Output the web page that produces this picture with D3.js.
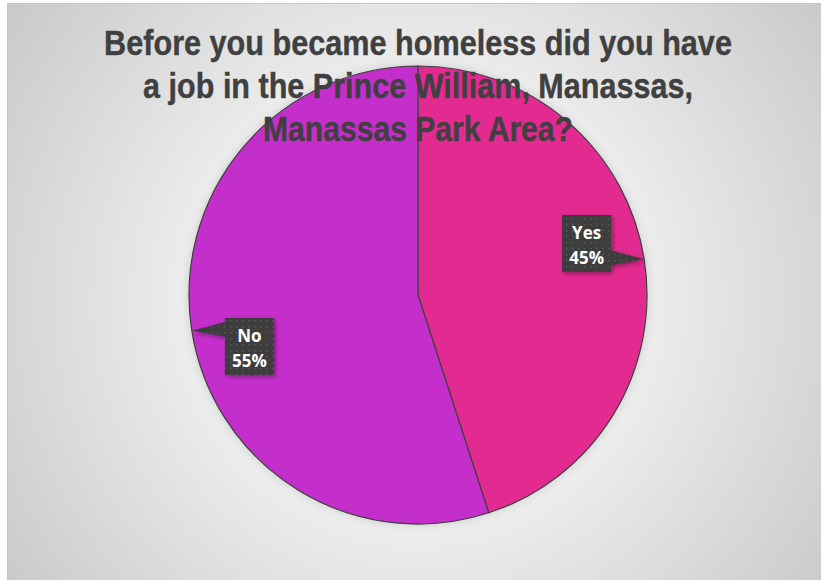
<!DOCTYPE html>
<html>
<head>
<meta charset="utf-8">
<script src="https://cdn.jsdelivr.net/npm/d3@7"></script>
<style>
html,body{margin:0;padding:0;background:#fff;}
svg{display:block;}
</style>
</head>
<body>
<svg id="chart" width="821" height="580"></svg>
<script>
const titleLines = ["Before you became homeless did you have", "a job in the Prince William, Manassas,", "Manassas Park Area?"];
const categories = ["Yes", "No"];
const values = [45, 55];
const percentLabels = ["45%", "55%"];
const colors = ["#E22C90", "#C42ECB"];

const W = 821, H = 580;
const svg = d3.select("#chart");
const defs = svg.append("defs");

const grad = defs.append("radialGradient").attr("id","bg")
  .attr("gradientUnits","userSpaceOnUse").attr("cx",418).attr("cy",300).attr("r",560);
grad.append("stop").attr("offset",0).attr("stop-color","#ffffff");
grad.append("stop").attr("offset",0.2).attr("stop-color","#fcfcfc");
grad.append("stop").attr("offset",1).attr("stop-color","#c2c2c2");

const pat = defs.append("pattern").attr("id","dots").attr("patternUnits","userSpaceOnUse")
  .attr("width",6).attr("height",6);
pat.append("rect").attr("width",6).attr("height",6).attr("fill","#3c3c3c");
pat.append("rect").attr("x",2).attr("y",2).attr("width",1.5).attr("height",1.5).attr("fill","#585858");

const sh = defs.append("filter").attr("id","sh").attr("x","-30%").attr("y","-30%").attr("width","160%").attr("height","160%");
sh.append("feDropShadow").attr("dx",2).attr("dy",2).attr("stdDeviation",2).attr("flood-color","#000").attr("flood-opacity",0.35);

const psh = defs.append("filter").attr("id","psh").attr("x","-10%").attr("y","-10%").attr("width","120%").attr("height","120%");
psh.append("feDropShadow").attr("dx",0).attr("dy",0).attr("stdDeviation",4).attr("flood-color","#000").attr("flood-opacity",0.15);

svg.append("rect").attr("x",7.5).attr("y",3.5).attr("width",W).attr("height",H)
  .attr("fill","url(#bg)").attr("stroke","#c6c6c6").attr("stroke-width",1);

const cx = 418, cy = 295, R = 229;
const pie = d3.pie().sort(null).value(d => d)(values);
const arc = d3.arc().innerRadius(0).outerRadius(R);

const g = svg.append("g").attr("transform",`translate(${cx},${cy})`);
g.append("g").attr("filter","url(#psh)").selectAll("path").data(pie).join("path")
  .attr("d",arc).attr("fill",(d,i)=>colors[i]).attr("stroke","#404040").attr("stroke-width",1.2);

// Title
const title = svg.append("g");
const lineY = [55, 98, 141];
const targetW = [628, 550, 310];
titleLines.forEach((t,i)=>{
  const tx = title.append("text").attr("x",0).attr("y",0)
    .attr("font-family","'Liberation Sans', Arial, sans-serif")
    .attr("font-weight","bold").attr("font-size",35).attr("fill","#404040")
    .attr("stroke","#404040").attr("stroke-width",0.4)
    .attr("text-anchor","middle").text(t);
  const w = tx.node().getComputedTextLength();
  const s = targetW[i] / w;
  tx.attr("transform",`translate(418,${lineY[i]}) scale(${s},1)`);
});

// Labels (callouts)
const bw = 49, bh = 57;
const labels = svg.append("g");
pie.forEach((d,i)=>{
  const mid = (d.startAngle + d.endAngle)/2;
  const tip = [cx + R*Math.sin(mid), cy - R*Math.cos(mid)];
  const a2 = mid - 8*Math.PI/180;
  const rr = 0.77*R;
  const bc = [cx + rr*Math.sin(a2), cy - rr*Math.cos(a2)];
  const x0 = bc[0]-bw/2, y0 = bc[1]-bh/2, x1 = x0+bw, y1 = y0+bh;
  let by0 = Math.max(y0+4, tip[1]-9), by1 = Math.min(y1-4, tip[1]+6);
  let p;
  if (tip[0] > x1) {
    p = [[x0,y0],[x1,y0],[x1,by0],[tip[0],tip[1]],[x1,by1],[x1,y1],[x0,y1]];
  } else {
    p = [[x0,y0],[x1,y0],[x1,y1],[x0,y1],[x0,by1],[tip[0],tip[1]],[x0,by0]];
  }
  const lg = labels.append("g");
  lg.append("path").attr("d","M"+p.map(q=>q.join(",")).join("L")+"Z")
    .attr("fill","url(#dots)").attr("filter","url(#sh)");
  lg.append("text").attr("x",bc[0]).attr("y",y0+24)
    .attr("text-anchor","middle").attr("font-family","'Open Sans', sans-serif")
    .attr("font-weight","bold").attr("font-size",17).attr("fill","#fff").text(categories[i]);
  lg.append("text").attr("x",bc[0]).attr("y",y0+49)
    .attr("text-anchor","middle").attr("font-family","'Open Sans', sans-serif")
    .attr("font-weight","bold").attr("font-size",17).attr("fill","#fff").text(percentLabels[i]);
});
</script>
</body>
</html>
